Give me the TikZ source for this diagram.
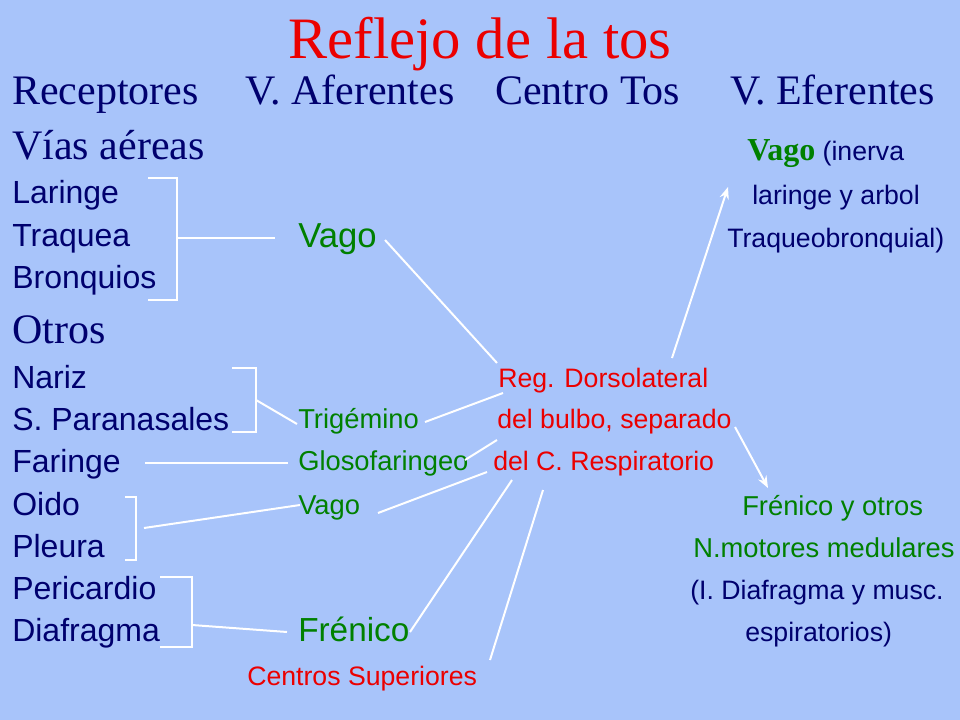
\documentclass[tikz,border=0pt]{standalone}
\usepackage{fontspec}
\setmainfont{Liberation Serif}
\setsansfont{Liberation Sans}
\usetikzlibrary{positioning, arrows.meta}
\definecolor{bg}{RGB}{168,196,250}
\definecolor{navy}{RGB}{0,0,110}
\definecolor{dkgreen}{RGB}{0,128,0}
\definecolor{tred}{RGB}{235,0,0}
\tikzset{H/.style={anchor=base west, inner sep=0pt, text=navy, font=\fontsize{31.5}{31.5}\selectfont}}
\tikzset{R/.style={anchor=base west, inner sep=0pt, text=navy, font=\sffamily\fontsize{24}{24}\selectfont}}
\tikzset{N/.style={anchor=base west, inner sep=0pt, text=dkgreen, font=\sffamily\fontsize{20.5}{20.5}\selectfont}}
\tikzset{C/.style={anchor=base west, inner sep=0pt, text=tred, font=\sffamily\fontsize{20}{20}\selectfont}}
\tikzset{E/.style={anchor=base west, inner sep=0pt, text=navy, font=\sffamily\fontsize{20}{20}\selectfont}}
\tikzset{L/.style={draw=white, line width=1.5pt}}
\tikzset{A/.style={L, -{Stealth[length=9pt,width=7pt]}}}
\begin{document}
\begin{tikzpicture}[x=0.75pt, y=-0.75pt]
        \fill[bg] (0,0) rectangle (960,720);
        %% Title and headings
        \node[text=tred, font=\fontsize{44}{44}\selectfont] (title) at (480,44) {Reflejo de la tos};
        \node[H] (hrec) at (12,105) {Receptores};
        \node[H] (haf) at (245,105) {V. Aferentes};
        \node[H] (hcen) at (495,105) {Centro Tos};
        \node[H] (hef) at (730,105) {V. Eferentes};
        %% Receptors
        \node[H] (vias) at (12,160) {Vías aéreas};
        \node[R] (lar) at (12,204) {Laringe};
        \node[R] (traq) at (12,247) {Traquea};
        \node[R] (bron) at (12,289) {Bronquios};
        \node[H] (otros) at (12,343) {Otros};
        \node[R] (nariz) at (12,388) {Nariz};
        \node[R] (spar) at (12,430) {S. Paranasales};
        \node[R] (far) at (12,472) {Faringe};
        \node[R] (oido) at (12,515) {Oido};
        \node[R] (pleu) at (12,557) {Pleura};
        \node[R] (peri) at (12,599) {Pericardio};
        \node[R] (diaf) at (12,641) {Diafragma};
        %% Afferent nerves
        \node[N, font=\sffamily\fontsize{26}{26}\selectfont] (vago1) at (298,248) {Vago};
        \node[N] (trig) at (298,428) {Trigémino};
        \node[N] (glos) at (298,470) {Glosofaringeo};
        \node[N] (vago2) at (298,514) {Vago};
        \node[N, font=\sffamily\fontsize{25}{25}\selectfont] (fren) at (298,641) {Frénico};
        \node[C] (csup) at (247,685) {Centros Superiores};
        %% Cough centre
        \node[C] (reg) at (498,387) {Reg. Dorsolateral};
        \node[C] (bulbo) at (497,428) {del bulbo, separado};
        \node[C] (resp) at (493,470) {del C. Respiratorio};
        %% Efferent nerves
        \node[anchor=base west, inner sep=0pt, text=dkgreen, font=\bfseries\fontsize{24}{24}\selectfont] (vagoef) at (747,161) {Vago};
        \node[E, right=5pt of vagoef.base east, anchor=base west] (inerva) {(inerva};
        \node[E] (lary) at (752,205) {laringe y arbol};
        \node[E] (traqb) at (727,248) {Traqueobronquial)};
        \node[N] (frenot) at (742,515) {Frénico y otros};
        \node[N] (nmot) at (693,557) {N.motores medulares};
        \node[E] (idiaf) at (690,599) {(I. Diafragma y musc.};
        \node[E] (espir) at (745,641) {espiratorios)};
        %% Brackets
        \coordinate (b1) at (177,238);
        \coordinate (b2) at (256,400);
        \coordinate (b3) at (136,528);
        \coordinate (b4) at (192,625);
        \draw[L] (148,178) -| (b1) |- (148,300);
        \draw[L] (232,368) -| (b2) |- (232,432);
        \draw[L] (125,497) -| (b3) |- (125,560);
        \draw[L] (160,577) -| (b4) |- (160,647);
        %% Connector ends
        \coordinate (vago1in) at (275,238);
        \coordinate (vago1out) at (385,240);
        \coordinate (trigin) at (297,424);
        \coordinate (trigout) at (425,422);
        \coordinate (farout) at (145,463);
        \coordinate (glosin) at (288,463);
        \coordinate (glosout) at (465,460);
        \coordinate (vago2in) at (300,505);
        \coordinate (vago2out) at (378,513);
        \coordinate (frenin) at (287,632);
        \coordinate (frenout) at (410,632);
        \coordinate (csupout) at (490,660);
        \coordinate (rega) at (497,363);
        \coordinate (regb) at (503,393);
        \coordinate (bulboa) at (497,440);
        \coordinate (respa) at (487,472);
        \coordinate (respb) at (512,480);
        \coordinate (respc) at (543,490);
        \coordinate (regtop) at (672,358);
        \coordinate (laryin) at (728,187);
        \coordinate (bulboout) at (735,427);
        \coordinate (frenotin) at (768,488);
        %% Afferent edges
        \draw[L] (b1) -- (vago1in);
        \draw[L] (b2) -- (trigin);
        \draw[L] (farout) -- (glosin);
        \draw[L] ([xshift=6pt]b3) -- (vago2in);
        \draw[L] (b4) -- (frenin);
        %% Edges to centre
        \draw[L] (vago1out) -- (rega);
        \draw[L] (trigout) -- (regb);
        \draw[L] (glosout) -- (bulboa);
        \draw[L] (vago2out) -- (respa);
        \draw[L] (frenout) -- (respb);
        \draw[L] (csupout) -- (respc);
        %% Efferent edges
        \draw[A] (regtop) -- (laryin);
        \draw[A] (bulboout) -- (frenotin);
\end{tikzpicture}
\end{document}
